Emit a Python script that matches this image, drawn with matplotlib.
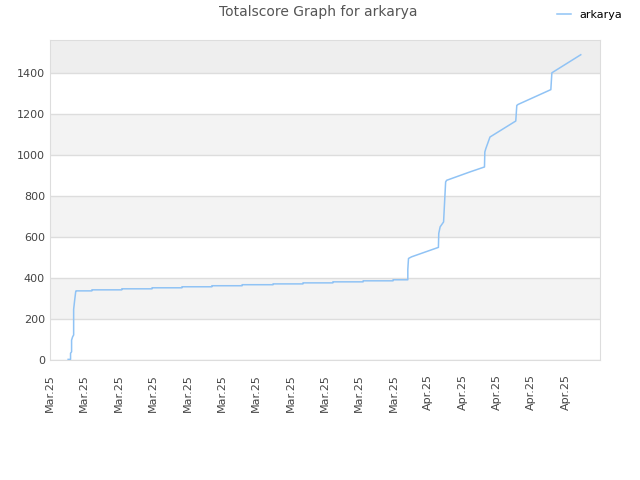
import matplotlib
matplotlib.use('Agg')
import matplotlib.pyplot as plt

# x in tick units (one unit per date label), y = total score
xs = [0.53, 0.60, 0.60, 0.63, 0.63, 0.66, 0.69, 0.69, 0.72, 0.75, 0.76,
      1.22, 1.22, 2.09, 2.09, 2.97, 2.97, 3.84, 3.84, 4.71, 4.71, 5.59, 5.59,
      6.49, 6.49, 7.36, 7.36, 8.23, 8.23, 9.11, 9.11, 9.98, 9.98, 10.41,
      10.41, 10.43, 10.52, 11.30, 11.31, 11.35, 11.45, 11.48, 11.51, 11.54,
      12.22, 12.64, 12.65, 12.68, 12.80, 13.55, 13.58, 13.62, 14.57, 14.60,
      15.44]
scores = [3, 3, 33, 40, 97, 113, 122, 247, 292, 333, 337,
          337, 342, 342, 347, 347, 352, 352, 357, 357, 362, 362, 367,
          367, 371, 371, 376, 376, 381, 381, 386, 386, 391, 391,
          441, 495, 503, 549, 617, 649, 673, 771, 868, 876,
          917, 941, 1014, 1031, 1087, 1165, 1241, 1246, 1318, 1400,
          1488]
tick_labels = ['Mar.25'] * 11 + ['Apr.25'] * 5

fig = plt.figure(figsize=(6.4, 4.8), dpi=100)
ax = fig.add_axes([0.078, 0.25, 0.8595, 0.6667])

ymax = 1560
for i, lo in enumerate(range(0, 1600, 200)):
    if lo >= 1400:
        c = '#eeeeee'
    elif i % 2 == 1:
        c = '#f3f3f3'
    else:
        c = 'white'
    ax.axhspan(lo, min(lo + 200, ymax), color=c, zorder=0, lw=0)
    ax.axhline(lo, color='#dddddd', lw=1, zorder=1)

ax.plot(xs, scores, color='#90c3f5', lw=1.1, label='arkarya', zorder=3)

ax.set_xlim(0, 16)
ax.set_ylim(0, ymax)
ax.set_xticks(range(16))
ax.set_xticklabels(tick_labels, rotation=90, fontsize=8, color='#444444')
ax.set_yticks(range(0, 1600, 200))
ax.tick_params(axis='y', labelsize=8, colors='#444444', length=0)
ax.tick_params(axis='x', length=0, pad=10)
for s in ax.spines.values():
    s.set_color('#dddddd')

fig.text(0.497, 0.974, 'Totalscore Graph for arkarya', ha='center', va='center',
         fontsize=10, color='#555555')
fig.legend(loc='upper right', bbox_to_anchor=(0.988, 1.0), frameon=False,
           fontsize=8, handlelength=1.2)

plt.savefig('out.png')
